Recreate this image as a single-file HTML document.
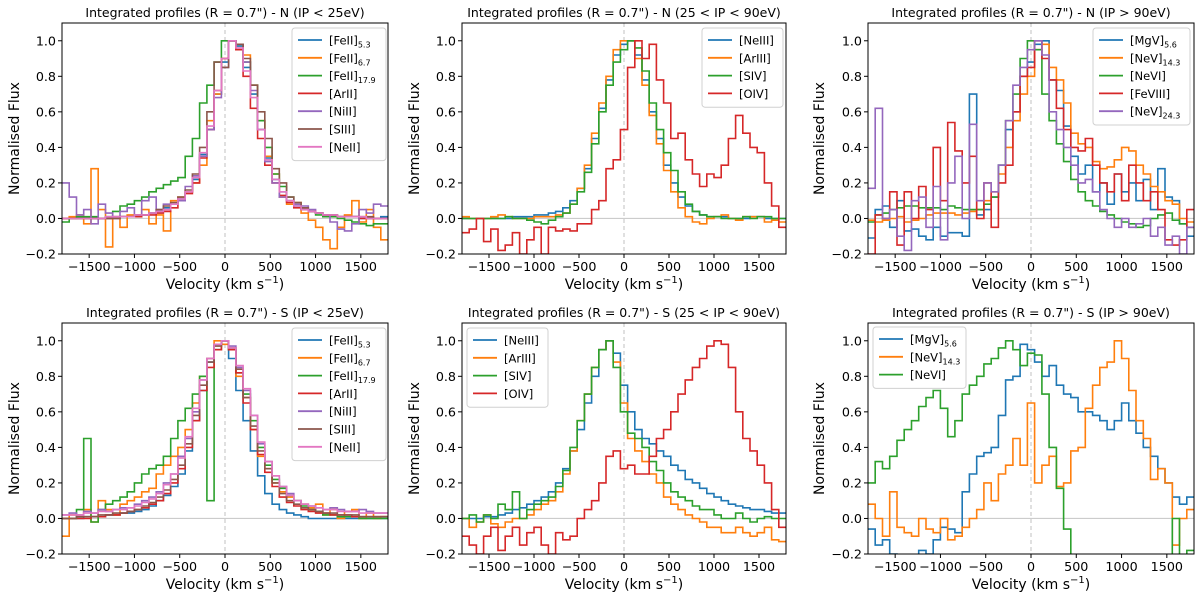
<!DOCTYPE html>
<html><head><meta charset="utf-8"><style>
html,body{margin:0;padding:0;background:#fff;}
svg{display:block;font-family:"DejaVu Sans","Liberation Sans",sans-serif;}
</style></head><body>
<svg id="fig" width="1200" height="600" viewBox="0 0 1200 600"></svg>
<script>
// bins: 45 bins of 80 km/s from -1800 to 1800
const binStart = -1800, binWidth = 80;
const xTicks = [-1500,-1000,-500,0,500,1000,1500];
const xTickLabels = ["\u22121500","\u22121000","\u2212500","0","500","1000","1500"];
const yTicks = [-0.2,0,0.2,0.4,0.6,0.8,1.0];
const yTickLabels = ["\u22120.2","0.0","0.2","0.4","0.6","0.8","1.0"];

// Panel 1: N, IP<25eV
const p1FeII53 = [0,0,0,0,0,0,0,0.01,0.01,0.01,0.02,0.02,0.03,0.04,0.06,0.08,0.11,0.15,0.22,0.36,0.5,0.7,0.88,1.0,0.97,0.85,0.7,0.5,0.34,0.22,0.15,0.1,0.07,0.05,0.04,0.03,0.02,0.02,0.01,0.01,0.01,0,0,0,0.01];
const p1FeII67 = [0,0.01,0.02,-0.03,0.28,0.05,-0.16,0.01,-0.05,0.02,0.01,0.05,-0.03,0.02,-0.07,0.1,0.12,0.15,0.2,0.3,0.55,0.7,0.9,1.0,0.95,0.92,0.75,0.55,0.35,0.25,0.12,0.08,0.09,0.03,-0.01,-0.05,-0.12,-0.17,-0.05,0.02,0.1,-0.02,0.05,-0.05,-0.12];
const p1FeII179 = [-0.02,0,0.01,0.01,0.01,0,0.01,0.04,0.07,0.08,0.1,0.12,0.15,0.17,0.19,0.21,0.23,0.35,0.45,0.65,0.75,0.88,1.0,1.0,0.98,0.88,0.75,0.55,0.4,0.25,0.18,0.12,0.08,0.05,0.04,0.02,0.01,0.01,0,-0.01,-0.02,-0.03,-0.04,-0.03,-0.03];
const p1ArII = [0,0,0,0,0,0,0,0,0.01,0.01,0.01,0.02,0.02,0.03,0.04,0.06,0.1,0.14,0.2,0.34,0.5,0.72,0.9,1.0,0.95,0.8,0.62,0.45,0.3,0.2,0.13,0.09,0.06,0.05,0.04,0.03,0.02,0.02,0.01,0.01,0.01,0,0,0,0];
const p1NiII = [0.2,0.12,0.02,0.05,-0.03,0.08,0.03,0,0.04,0.06,0.02,0.1,0.12,0.05,0.08,0.08,0.1,0.18,0.24,0.35,0.5,0.68,0.85,1.0,0.98,0.88,0.72,0.5,0.32,0.2,0.12,0.1,0.08,0.07,0.05,0.03,0.02,-0.02,-0.06,-0.07,-0.03,0.05,0.03,0.08,0.07];
const p1SIII = [0,0,0,0,0,0,0,0,0.01,0.01,0.02,0.02,0.03,0.05,0.07,0.09,0.12,0.16,0.25,0.4,0.6,0.88,0.85,1.0,0.98,0.9,0.75,0.6,0.45,0.28,0.2,0.12,0.09,0.06,0.04,0.03,0.02,0.02,0.01,0.01,0.01,0.01,0.01,0,0];
const p1NeII = [0,0,0,0,0,0,0.01,0.01,0.01,0.01,0.02,0.02,0.03,0.04,0.05,0.08,0.11,0.15,0.23,0.37,0.52,0.72,0.9,1.0,0.96,0.83,0.68,0.5,0.33,0.22,0.15,0.1,0.07,0.05,0.04,0.03,0.02,0.02,0.01,0.01,0.01,0.01,0,0,0];

// Panel 2: N, 25<IP<90eV
const p2NeIII = [0,0,0,0,0,0,0,0.01,0.01,0.01,0.02,0.02,0.03,0.04,0.06,0.1,0.17,0.28,0.45,0.62,0.78,0.92,0.98,1.0,0.92,0.78,0.6,0.45,0.3,0.2,0.12,0.07,0.04,0.02,0.01,0.01,0.01,0,0,0,0.01,0.01,0,0,0];
const p2ArIII = [0.01,0,0,0,0.01,0.02,0.01,0,0,0,0.01,0.01,0.01,0.02,0.03,0.08,0.17,0.3,0.48,0.65,0.8,0.95,1.0,1.0,0.9,0.75,0.58,0.42,0.27,0.15,0.06,0.01,-0.02,-0.03,0,0.01,0.02,0,-0.01,0.01,0.01,0.01,-0.02,-0.01,-0.02];
const p2SIV = [0,0,0,0,0,0,0.01,0,0,-0.01,-0.02,-0.03,-0.01,0.01,0.03,0.08,0.15,0.26,0.42,0.6,0.75,0.88,0.95,1.0,0.96,0.83,0.65,0.5,0.37,0.27,0.15,0.08,0.04,0.02,0.01,0.01,0,0,0,0.01,0,0.01,0.01,0,0];
const p2OIV = [-0.08,-0.06,0,-0.13,-0.06,-0.18,-0.15,-0.08,-0.2,-0.12,-0.05,-0.2,-0.05,-0.07,-0.06,-0.07,-0.03,-0.03,0.05,0.1,0.28,0.33,0.5,0.85,1.0,0.9,0.98,0.78,0.65,0.45,0.48,0.33,0.25,0.18,0.25,0.23,0.3,0.45,0.58,0.48,0.4,0.37,0.2,0.07,-0.05];

// Panel 3: N, IP>90eV
const p3MgV = [-0.11,0.05,0.07,-0.05,0.1,-0.07,-0.06,-0.1,-0.12,-0.05,-0.1,-0.08,-0.08,-0.1,0.7,0.02,0.05,0.12,0.3,0.5,0.6,0.8,0.88,0.98,1.0,0.78,0.72,0.52,0.35,0.25,0.3,0.15,0.2,0.08,0.25,0.15,0.2,0.1,0.22,0.05,0.28,0.12,0.1,-0.03,-0.1];
const p3NeV143 = [-0.01,-0.02,-0.01,0,0.01,-0.02,-0.01,0,0.02,0.03,0.03,0.03,0.02,0.03,0.04,0.05,0.1,0.15,0.25,0.4,0.55,0.7,0.8,0.95,0.98,0.85,0.78,0.65,0.48,0.42,0.4,0.32,0.28,0.29,0.33,0.4,0.38,0.3,0.25,0.18,0.15,0.1,0.08,0,-0.02];
const p3NeVI = [-0.02,0.02,0.03,0.05,0.06,0.07,0.07,0.06,0.06,0.06,0.05,0.07,0.06,0.05,0.05,0.05,0.08,0.12,0.3,0.55,0.7,0.9,1.0,0.95,0.7,0.55,0.42,0.32,0.22,0.15,0.1,0.07,0.04,0.02,0,-0.02,-0.03,-0.05,-0.04,0,0.02,0.03,-0.01,-0.03,-0.05];
const p3FeVIII = [-0.2,0.02,0,0.15,-0.15,0.15,0,0.18,0.05,0.4,0.1,0.54,0.38,0.2,0.35,0,0.2,-0.05,0.2,0.3,0.6,0.8,0.85,1.0,0.9,0.78,0.62,0.5,0.4,0.38,0.45,0.3,0.2,0.15,0.25,0.1,0.3,0.2,0.1,0.15,0.05,-0.12,-0.15,-0.12,0.05];
const p3NeV243 = [0.17,0.62,0,0.05,-0.1,-0.18,0.1,0.12,-0.05,0.18,-0.12,0.2,0.35,0,0.53,0.1,0.2,0.15,0.3,0.55,0.75,0.85,0.95,1.0,0.92,0.6,0.5,0.4,0.3,0.2,0.22,0.15,0.05,0,-0.05,0,-0.05,-0.03,0,-0.1,-0.05,-0.15,-0.1,-0.2,-0.05];

// Panel 4: S, IP<25eV
const p4FeII53 = [0,0,0,0.01,0.01,0.01,0.02,0.02,0.03,0.03,0.04,0.05,0.07,0.1,0.13,0.18,0.25,0.38,0.55,0.72,0.88,0.98,1.0,0.9,0.72,0.55,0.38,0.24,0.14,0.08,0.05,0.03,0.02,0.01,0,0,0,0,0,0,0,0,0,0,0];
const p4FeII67 = [-0.1,0.02,0.02,0.05,-0.02,0.1,0.05,0.02,0.08,0.1,0.12,0.15,0.17,0.25,0.3,0.35,0.4,0.5,0.65,0.8,0.9,1.0,0.98,0.95,0.8,0.68,0.5,0.35,0.28,0.2,0.15,0.12,0.1,0.08,0.06,0.08,0.02,0.05,0,0.04,0.05,0,0.03,0,0.01];
const p4FeII179 = [0,0,0.05,0.45,-0.02,0.05,0.08,0.1,0.12,0.15,0.2,0.25,0.28,0.3,0.35,0.45,0.55,0.62,0.7,0.8,0.1,0.95,1.0,0.95,0.82,0.7,0.55,0.4,0.3,0.22,0.17,0.13,0.1,0.07,0.05,0.04,0.02,0.02,0.01,0.01,0.01,0,0,0,0];
const p4ArII = [0,0,0,0,0.01,0.01,0.02,0.02,0.03,0.04,0.05,0.06,0.08,0.1,0.14,0.2,0.28,0.4,0.55,0.72,0.85,0.95,1.0,0.95,0.82,0.65,0.5,0.36,0.26,0.18,0.12,0.09,0.07,0.05,0.04,0.03,0.03,0.02,0.02,0.02,0.01,0.01,0.01,0.01,0.01];
const p4NiII = [0.02,0.03,0.02,0.04,0.03,0.05,0.04,0.05,0.06,0.06,0.08,0.1,0.12,0.15,0.2,0.25,0.35,0.45,0.6,0.78,0.9,0.98,1.0,0.97,0.85,0.72,0.58,0.42,0.32,0.24,0.18,0.14,0.1,0.08,0.07,0.06,0.05,0.06,0.05,0.04,0.04,0.05,0.04,0.03,0.03];
const p4SIII = [0,0,0.01,0.01,0.01,0.02,0.02,0.03,0.03,0.04,0.05,0.07,0.09,0.12,0.16,0.22,0.3,0.42,0.58,0.75,0.88,0.97,1.0,0.96,0.84,0.68,0.52,0.38,0.28,0.2,0.14,0.1,0.08,0.06,0.05,0.04,0.03,0.03,0.02,0.02,0.02,0.01,0.01,0.01,0.01];
const p4NeII = [0.02,0.02,0.02,0.03,0.03,0.04,0.04,0.05,0.05,0.06,0.07,0.09,0.11,0.14,0.19,0.25,0.34,0.46,0.62,0.78,0.9,0.98,1.0,0.96,0.86,0.73,0.58,0.43,0.32,0.24,0.18,0.13,0.1,0.08,0.07,0.06,0.05,0.05,0.04,0.04,0.04,0.03,0.03,0.03,0.03];

// Panel 5: S, 25<IP<90eV
const p5NeIII = [0,0,0,0.01,0.01,0.02,0.03,0.05,0.06,0.08,0.1,0.12,0.15,0.2,0.28,0.38,0.5,0.65,0.8,0.95,1.0,0.93,0.75,0.6,0.5,0.45,0.42,0.38,0.35,0.3,0.27,0.22,0.2,0.17,0.14,0.12,0.1,0.08,0.07,0.06,0.05,0.05,0.04,0.03,0.03];
const p5ArIII = [0,-0.05,-0.02,0.02,-0.03,-0.05,-0.02,0,0,0.02,0.05,0.08,0.1,0.15,0.25,0.38,0.55,0.7,0.85,0.95,1.0,0.88,0.65,0.45,0.38,0.32,0.25,0.2,0.12,0.08,0.05,0.02,0,-0.02,-0.05,-0.05,-0.08,-0.08,-0.05,-0.08,-0.1,-0.08,-0.05,-0.12,-0.13];
const p5SIV = [0,0.02,-0.02,0.02,0,0.08,0.05,0.15,0,0.05,0.08,0.1,0.12,0.18,0.27,0.4,0.55,0.7,0.85,0.95,1.0,0.85,0.6,0.48,0.45,0.4,0.32,0.27,0.2,0.15,0.12,0.1,0.07,0.05,0.05,0.02,0,0,0.03,0,-0.02,0,0.01,0,0];
const p5OIV = [-0.1,-0.15,-0.2,-0.1,-0.05,-0.18,-0.1,-0.05,-0.15,-0.08,-0.05,-0.15,-0.2,-0.08,-0.12,-0.1,0,0.05,0.1,0.2,0.35,0.38,0.28,0.3,0.25,0.25,0.35,0.45,0.5,0.6,0.7,0.78,0.85,0.9,0.97,1.0,0.98,0.85,0.6,0.45,0.38,0.3,0.2,0.05,-0.05];

// Panel 6: S, IP>90eV
const p6MgV = [-0.06,-0.15,-0.12,-0.2,-0.25,-0.25,-0.3,-0.18,-0.2,-0.12,-0.05,-0.06,-0.08,0.15,0.25,0.35,0.37,0.4,0.58,0.78,0.8,0.98,0.95,0.88,0.8,0.86,0.75,0.7,0.68,0.6,0.6,0.58,0.55,0.5,0.55,0.65,0.55,0.48,0.4,0.35,0.28,0.2,0.12,0.08,0.12];
const p6NeV143 = [0.08,0,-0.1,0.15,-0.05,-0.08,-0.1,0,-0.06,-0.08,0,-0.12,-0.1,-0.05,0,0.05,0.2,0.1,0.25,0.3,0.45,0.3,0.65,0.2,0.3,0.35,0.18,0.2,0.38,0.4,0.62,0.75,0.85,0.88,1.0,0.9,0.72,0.55,0.45,0.22,0.28,0.2,-0.15,0,0.05];
const p6NeVI = [0.2,0.32,0.28,0.35,0.44,0.5,0.55,0.63,0.68,0.72,0.62,0.46,0.55,0.7,0.75,0.8,0.87,0.9,0.96,1.0,0.95,0.86,0.93,0.92,0.7,0.4,0.17,-0.06,-0.3,-0.3,-0.3,-0.3,-0.3,-0.3,-0.3,-0.3,-0.3,-0.3,-0.3,-0.3,-0.3,-0.3,0,-0.25,-0.18];

const C = {blue:"#1f77b4",orange:"#ff7f0e",green:"#2ca02c",red:"#d62728",purple:"#9467bd",brown:"#8c564b",pink:"#e377c2"};
const NS = "http://www.w3.org/2000/svg";
const svg = document.getElementById("fig");
function mk(tag, attrs, parent){ const e=document.createElementNS(NS,tag); for(const k in attrs) e.setAttribute(k,attrs[k]); (parent||svg).appendChild(e); return e; }

const panels = [
 {x0:62,x1:388,y0:23,y1:254,ylab:15,title:'Integrated profiles (R = 0.7") - N (IP < 25eV)',leg:{x:292,y:28,w:94},series:[[p1FeII53,'blue','[FeII]','5.3'],[p1FeII67,'orange','[FeII]','6.7'],[p1FeII179,'green','[FeII]','17.9'],[p1ArII,'red','[ArII]',''],[p1NiII,'purple','[NiII]',''],[p1SIII,'brown','[SIII]',''],[p1NeII,'pink','[NeII]','']]},
 {x0:462,x1:786,y0:23,y1:254,ylab:415,title:'Integrated profiles (R = 0.7") - N (25 < IP < 90eV)',leg:{x:702,y:28,w:81},series:[[p2NeIII,'blue','[NeIII]',''],[p2ArIII,'orange','[ArIII]',''],[p2SIV,'green','[SIV]',''],[p2OIV,'red','[OIV]','']]},
 {x0:868,x1:1194,y0:23,y1:254,ylab:820,title:'Integrated profiles (R = 0.7") - N (IP > 90eV)',leg:{x:1093,y:28,w:97},series:[[p3MgV,'blue','[MgV]','5.6'],[p3NeV143,'orange','[NeV]','14.3'],[p3NeVI,'green','[NeVI]',''],[p3FeVIII,'red','[FeVIII]',''],[p3NeV243,'purple','[NeV]','24.3']]},
 {x0:62,x1:388,y0:323,y1:554,ylab:15,title:'Integrated profiles (R = 0.7") - S (IP < 25eV)',leg:{x:292,y:328,w:94},series:[[p4FeII53,'blue','[FeII]','5.3'],[p4FeII67,'orange','[FeII]','6.7'],[p4FeII179,'green','[FeII]','17.9'],[p4ArII,'red','[ArII]',''],[p4NiII,'purple','[NiII]',''],[p4SIII,'brown','[SIII]',''],[p4NeII,'pink','[NeII]','']]},
 {x0:462,x1:786,y0:323,y1:554,ylab:415,title:'Integrated profiles (R = 0.7") - S (25 < IP < 90eV)',leg:{x:467,y:328,w:81},series:[[p5NeIII,'blue','[NeIII]',''],[p5ArIII,'orange','[ArIII]',''],[p5SIV,'green','[SIV]',''],[p5OIV,'red','[OIV]','']]},
 {x0:868,x1:1194,y0:323,y1:554,ylab:820,title:'Integrated profiles (R = 0.7") - S (IP > 90eV)',leg:{x:873,y:327,w:93},series:[[p6MgV,'blue','[MgV]','5.6'],[p6NeV143,'orange','[NeV]','14.3'],[p6NeVI,'green','[NeVI]','']]}
];

panels.forEach((P,pi)=>{
  const g = mk('g',{});
  
  
  const xs = v => P.x0 + (v+1800)/3600*(P.x1-P.x0);
  const ys = f => P.y1 - (f+0.2)/1.3*(P.y1-P.y0);
  const cid='clip'+pi;
  const cp = mk('clipPath',{id:cid},g);
  mk('rect',{x:P.x0,y:P.y0,width:P.x1-P.x0,height:P.y1-P.y0},cp);
  const zl = mk('line',{x1:P.x0,x2:P.x1,y1:ys(0),y2:ys(0),stroke:'#cccccc','stroke-width':1.2},g);
  
  
  const vl = mk('line',{x1:xs(0),x2:xs(0),y1:P.y0,y2:P.y1,stroke:'#cccccc','stroke-width':1.2,'stroke-dasharray':'4,3'},g);
  
  
  const sg = mk('g',{'clip-path':'url(#'+cid+')'},g);
  P.series.forEach(s=>{
    const vals=s[0]; let d='';
    vals.forEach((v,k)=>{
      const a=xs(binStart+k*binWidth), b=xs(binStart+(k+1)*binWidth), y=ys(v);
      d += (k===0?'M':'L')+a.toFixed(1)+','+y.toFixed(1)+'L'+b.toFixed(1)+','+y.toFixed(1);
    });
    const p = mk('path',{d:d,fill:'none',stroke:C[s[1]],'stroke-width':1.6},sg);
    
    
  });
  const fr = mk('rect',{x:P.x0,y:P.y0,width:P.x1-P.x0,height:P.y1-P.y0,fill:'none',stroke:'#000','stroke-width':1},g);
  
  
  xTicks.forEach((t,i)=>{
    const x=xs(t);
    mk('line',{x1:x,x2:x,y1:P.y1,y2:P.y1+4,stroke:'#000','stroke-width':1},g);
    const tx = mk('text',{x:x,y:P.y1+17,'text-anchor':'middle','font-size':12.7},g);
    tx.textContent = xTickLabels[i];
    
    
  });
  yTicks.forEach((t,i)=>{
    const y=ys(t);
    mk('line',{x1:P.x0-4,x2:P.x0,y1:y,y2:y,stroke:'#000','stroke-width':1},g);
    const tx = mk('text',{x:P.x0-6,y:y+4.5,'text-anchor':'end','font-size':12.7},g);
    tx.textContent = yTickLabels[i];
    
    
  });
  const xl = mk('text',{x:(P.x0+P.x1)/2,y:P.y1+35,'text-anchor':'middle','font-size':14},g);
  xl.innerHTML = 'Velocity (km s<tspan font-size="10" dy="-6">\u22121</tspan><tspan dy="6">)</tspan>';
  
  
  const yl = mk('text',{x:0,y:0,'text-anchor':'middle','font-size':14,transform:'translate('+(P.ylab+4)+','+((P.y0+P.y1)/2)+') rotate(-90)'},g);
  yl.textContent = 'Normalised Flux';
  
  
  const tt = mk('text',{x:(P.x0+P.x1)/2,y:P.y0-6,'text-anchor':'middle','font-size':12.5},g);
  tt.textContent = P.title;
  
  
  const L=P.leg, n=P.series.length, rh=17.8;
  const lg = mk('g',{},g);
  
  
  mk('rect',{x:L.x,y:L.y,width:L.w,height:n*rh+8,rx:3,fill:'#fff','fill-opacity':0.85,stroke:'#d0d0d0','stroke-width':1},lg);
  P.series.forEach((s,i)=>{
    const y=L.y+12+i*rh;
    const e = mk('g',{},lg);
    
    
    mk('line',{x1:L.x+6,x2:L.x+30,y1:y,y2:y,stroke:C[s[1]],'stroke-width':1.8},e);
    const t = mk('text',{x:L.x+37,y:y+4.5,'font-size':11.5},e);
    t.innerHTML = s[2] + (s[3]?'<tspan font-size="8" dy="3">'+s[3]+'</tspan>':'');
  });
});
</script>
</body></html>
